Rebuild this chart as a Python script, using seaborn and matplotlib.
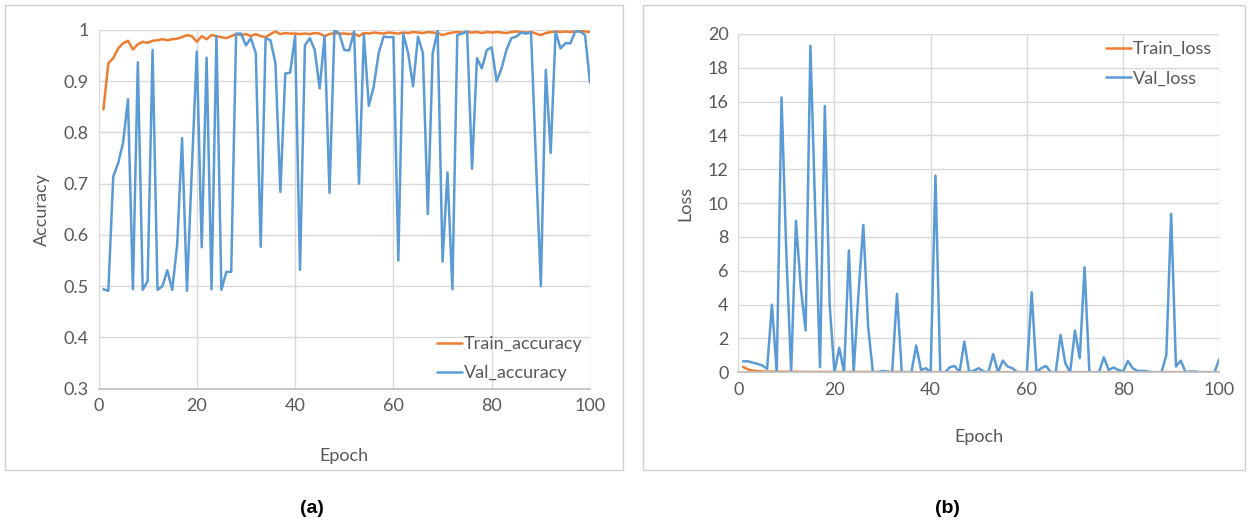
import numpy as np
import pandas as pd
import matplotlib
matplotlib.use("Agg")
import matplotlib.pyplot as plt
import seaborn as sns
from matplotlib.patches import Rectangle
from matplotlib.ticker import FuncFormatter

sns.set_theme(style="white")
plt.rcParams['font.family'] = ['Lato', 'DejaVu Sans']

epochs = list(range(1, 101))

train_accuracy = [
    0.845, 0.935, 0.945, 0.964, 0.974, 0.979, 0.962, 0.972, 0.977, 0.975,
    0.979, 0.980, 0.982, 0.980, 0.982, 0.983, 0.986, 0.990, 0.988, 0.977,
    0.988, 0.982, 0.990, 0.988, 0.986, 0.984, 0.988, 0.992, 0.990, 0.992,
    0.988, 0.992, 0.988, 0.986, 0.992, 0.997, 0.992, 0.994, 0.993, 0.993,
    0.992, 0.993, 0.992, 0.994, 0.993, 0.988, 0.992, 0.994, 0.993, 0.993,
    0.992, 0.993, 0.988, 0.994, 0.993, 0.995, 0.994, 0.993, 0.995, 0.994,
    0.993, 0.995, 0.994, 0.996, 0.995, 0.994, 0.996, 0.995, 0.994, 0.990,
    0.993, 0.995, 0.996, 0.995, 0.996, 0.995, 0.996, 0.994, 0.996, 0.995,
    0.996, 0.995, 0.994, 0.996, 0.997, 0.996, 0.995, 0.996, 0.993, 0.990,
    0.994, 0.996, 0.997, 0.996, 0.997, 0.996, 0.997, 0.998, 0.997, 0.996,
]

val_accuracy = [
    0.494, 0.491, 0.714, 0.740, 0.780, 0.865, 0.494, 0.937, 0.493, 0.510,
    0.961, 0.493, 0.500, 0.531, 0.493, 0.580, 0.789, 0.491, 0.730, 0.958,
    0.576, 0.946, 0.494, 0.988, 0.493, 0.528, 0.528, 0.993, 0.993, 0.970,
    0.984, 0.955, 0.577, 0.984, 0.980, 0.935, 0.684, 0.915, 0.917, 0.988,
    0.532, 0.970, 0.984, 0.961, 0.886, 0.988, 0.682, 1.000, 0.993, 0.961,
    0.960, 0.997, 0.700, 0.990, 0.852, 0.890, 0.955, 0.987, 0.986, 0.986,
    0.550, 0.993, 0.955, 0.890, 0.987, 0.955, 0.641, 0.955, 0.999, 0.548,
    0.722, 0.494, 0.990, 0.993, 0.997, 0.729, 0.945, 0.925, 0.961, 0.966,
    0.900, 0.925, 0.961, 0.984, 0.987, 0.995, 0.993, 0.995, 0.746, 0.500,
    0.922, 0.760, 0.997, 0.964, 0.974, 0.974, 0.997, 0.997, 0.990, 0.897,
]

train_loss = [
    0.32, 0.17, 0.10, 0.07, 0.05, 0.04, 0.04, 0.03, 0.03, 0.03,
    0.03, 0.03, 0.02, 0.02, 0.02, 0.02, 0.02, 0.02, 0.02, 0.02,
    0.02, 0.02, 0.02, 0.02, 0.02, 0.02, 0.02, 0.02, 0.02, 0.02,
    0.02, 0.02, 0.02, 0.02, 0.02, 0.01, 0.01, 0.01, 0.01, 0.01,
    0.01, 0.01, 0.01, 0.01, 0.01, 0.01, 0.01, 0.01, 0.01, 0.01,
    0.01, 0.01, 0.01, 0.01, 0.01, 0.01, 0.01, 0.01, 0.01, 0.01,
    0.01, 0.01, 0.01, 0.01, 0.01, 0.01, 0.01, 0.01, 0.01, 0.01,
    0.01, 0.01, 0.01, 0.01, 0.01, 0.01, 0.01, 0.01, 0.01, 0.01,
    0.01, 0.01, 0.01, 0.01, 0.01, 0.01, 0.01, 0.01, 0.01, 0.01,
    0.01, 0.01, 0.01, 0.01, 0.01, 0.01, 0.01, 0.01, 0.01, 0.01,
]

val_loss = [
    0.65, 0.65, 0.57, 0.50, 0.40, 0.20, 4.00, 0.00, 16.25, 7.00,
    0.00, 8.95, 5.00, 2.47, 19.30, 9.50, 0.30, 15.75, 4.00, 0.00,
    1.45, 0.00, 7.20, 0.00, 4.70, 8.71, 2.70, 0.00, 0.00, 0.08,
    0.04, 0.00, 4.63, 0.00, 0.00, 0.00, 1.58, 0.14, 0.24, 0.00,
    11.63, 0.00, 0.00, 0.30, 0.37, 0.00, 1.81, 0.00, 0.10, 0.24,
    0.04, 0.00, 1.07, 0.00, 0.69, 0.34, 0.24, 0.00, 0.00, 0.00,
    4.73, 0.00, 0.24, 0.37, 0.00, 0.00, 2.20, 0.53, 0.00, 2.46,
    0.83, 6.21, 0.00, 0.00, 0.00, 0.89, 0.14, 0.28, 0.14, 0.04,
    0.67, 0.24, 0.08, 0.08, 0.06, 0.00, 0.00, 0.00, 1.03, 9.37,
    0.34, 0.69, 0.00, 0.04, 0.04, 0.00, 0.00, 0.00, 0.00, 0.77,
]

acc = pd.DataFrame({"Epoch": epochs, "Train_accuracy": train_accuracy,
                    "Val_accuracy": val_accuracy})
loss = pd.DataFrame({"Epoch": epochs, "Train_loss": train_loss,
                     "Val_loss": val_loss})

orange = "#ED7D31"
blue = "#5B9BD5"
grid = "#D9D9D9"
txt = "#595959"

fig = plt.figure(figsize=(12.5, 5.25), dpi=100)

# panel borders
for x0, w in [(0.004, 0.494), (0.514, 0.482)]:
    fig.patches.append(Rectangle((x0, 0.105), w, 0.885, transform=fig.transFigure,
                                 fill=False, edgecolor="#D0D0D0", linewidth=1))

ax1 = fig.add_axes([0.0788, 0.2596, 0.3932, 0.6833])
ax2 = fig.add_axes([0.5906, 0.2909, 0.3848, 0.6444])


def style(ax):
    for s in ax.spines.values():
        s.set_visible(False)
    ax.spines['bottom'].set_visible(True)
    ax.spines['bottom'].set_color("#BFBFBF")
    ax.grid(True, color=grid, linewidth=1)
    ax.set_axisbelow(True)
    ax.tick_params(axis='both', length=0, colors=txt, labelsize=13, pad=7)
    ax.set_xlim(0, 100)
    ax.set_xticks(range(0, 101, 20))
    ax.xaxis.label.set_color(txt)
    ax.yaxis.label.set_color(txt)


sns.lineplot(data=acc, x="Epoch", y="Train_accuracy", ax=ax1, color=orange,
             linewidth=1.8, label="Train_accuracy")
sns.lineplot(data=acc, x="Epoch", y="Val_accuracy", ax=ax1, color=blue,
             linewidth=1.8, label="Val_accuracy")
style(ax1)
ax1.set_ylim(0.3, 1.0)
ax1.set_yticks(np.arange(0.3, 1.01, 0.1))
ax1.yaxis.set_major_formatter(FuncFormatter(lambda v, p: f"{v:.1f}".rstrip("0").rstrip(".")))
ax1.set_xlabel("Epoch", fontsize=13, labelpad=24)
ax1.set_ylabel("Accuracy", fontsize=13, labelpad=10)
ax1.legend(loc="lower right", frameon=False, fontsize=13, handlelength=1.4,
           handletextpad=0.1, labelcolor=txt, borderaxespad=0.0, labelspacing=0.75)

sns.lineplot(data=loss, x="Epoch", y="Train_loss", ax=ax2, color=orange,
             linewidth=1.8, label="Train_loss")
sns.lineplot(data=loss, x="Epoch", y="Val_loss", ax=ax2, color=blue,
             linewidth=1.8, label="Val_loss")
style(ax2)
ax2.set_ylim(0, 20)
ax2.set_yticks(range(0, 21, 2))
ax2.set_xlabel("Epoch", fontsize=13, labelpad=22)
ax2.set_ylabel("Loss", fontsize=13, labelpad=10)
ax2.legend(loc="upper right", frameon=False, fontsize=13, handlelength=1.4,
           handletextpad=0.1, labelcolor=txt, borderaxespad=0.0, labelspacing=0.75)

fig.text(0.2496, 0.032, "(a)", ha="center", va="center", fontsize=14,
         fontweight="bold", family="Liberation Sans", color="black")
fig.text(0.7576, 0.032, "(b)", ha="center", va="center", fontsize=14,
         fontweight="bold", family="Liberation Sans", color="black")

fig.savefig("out.png", dpi=100)
